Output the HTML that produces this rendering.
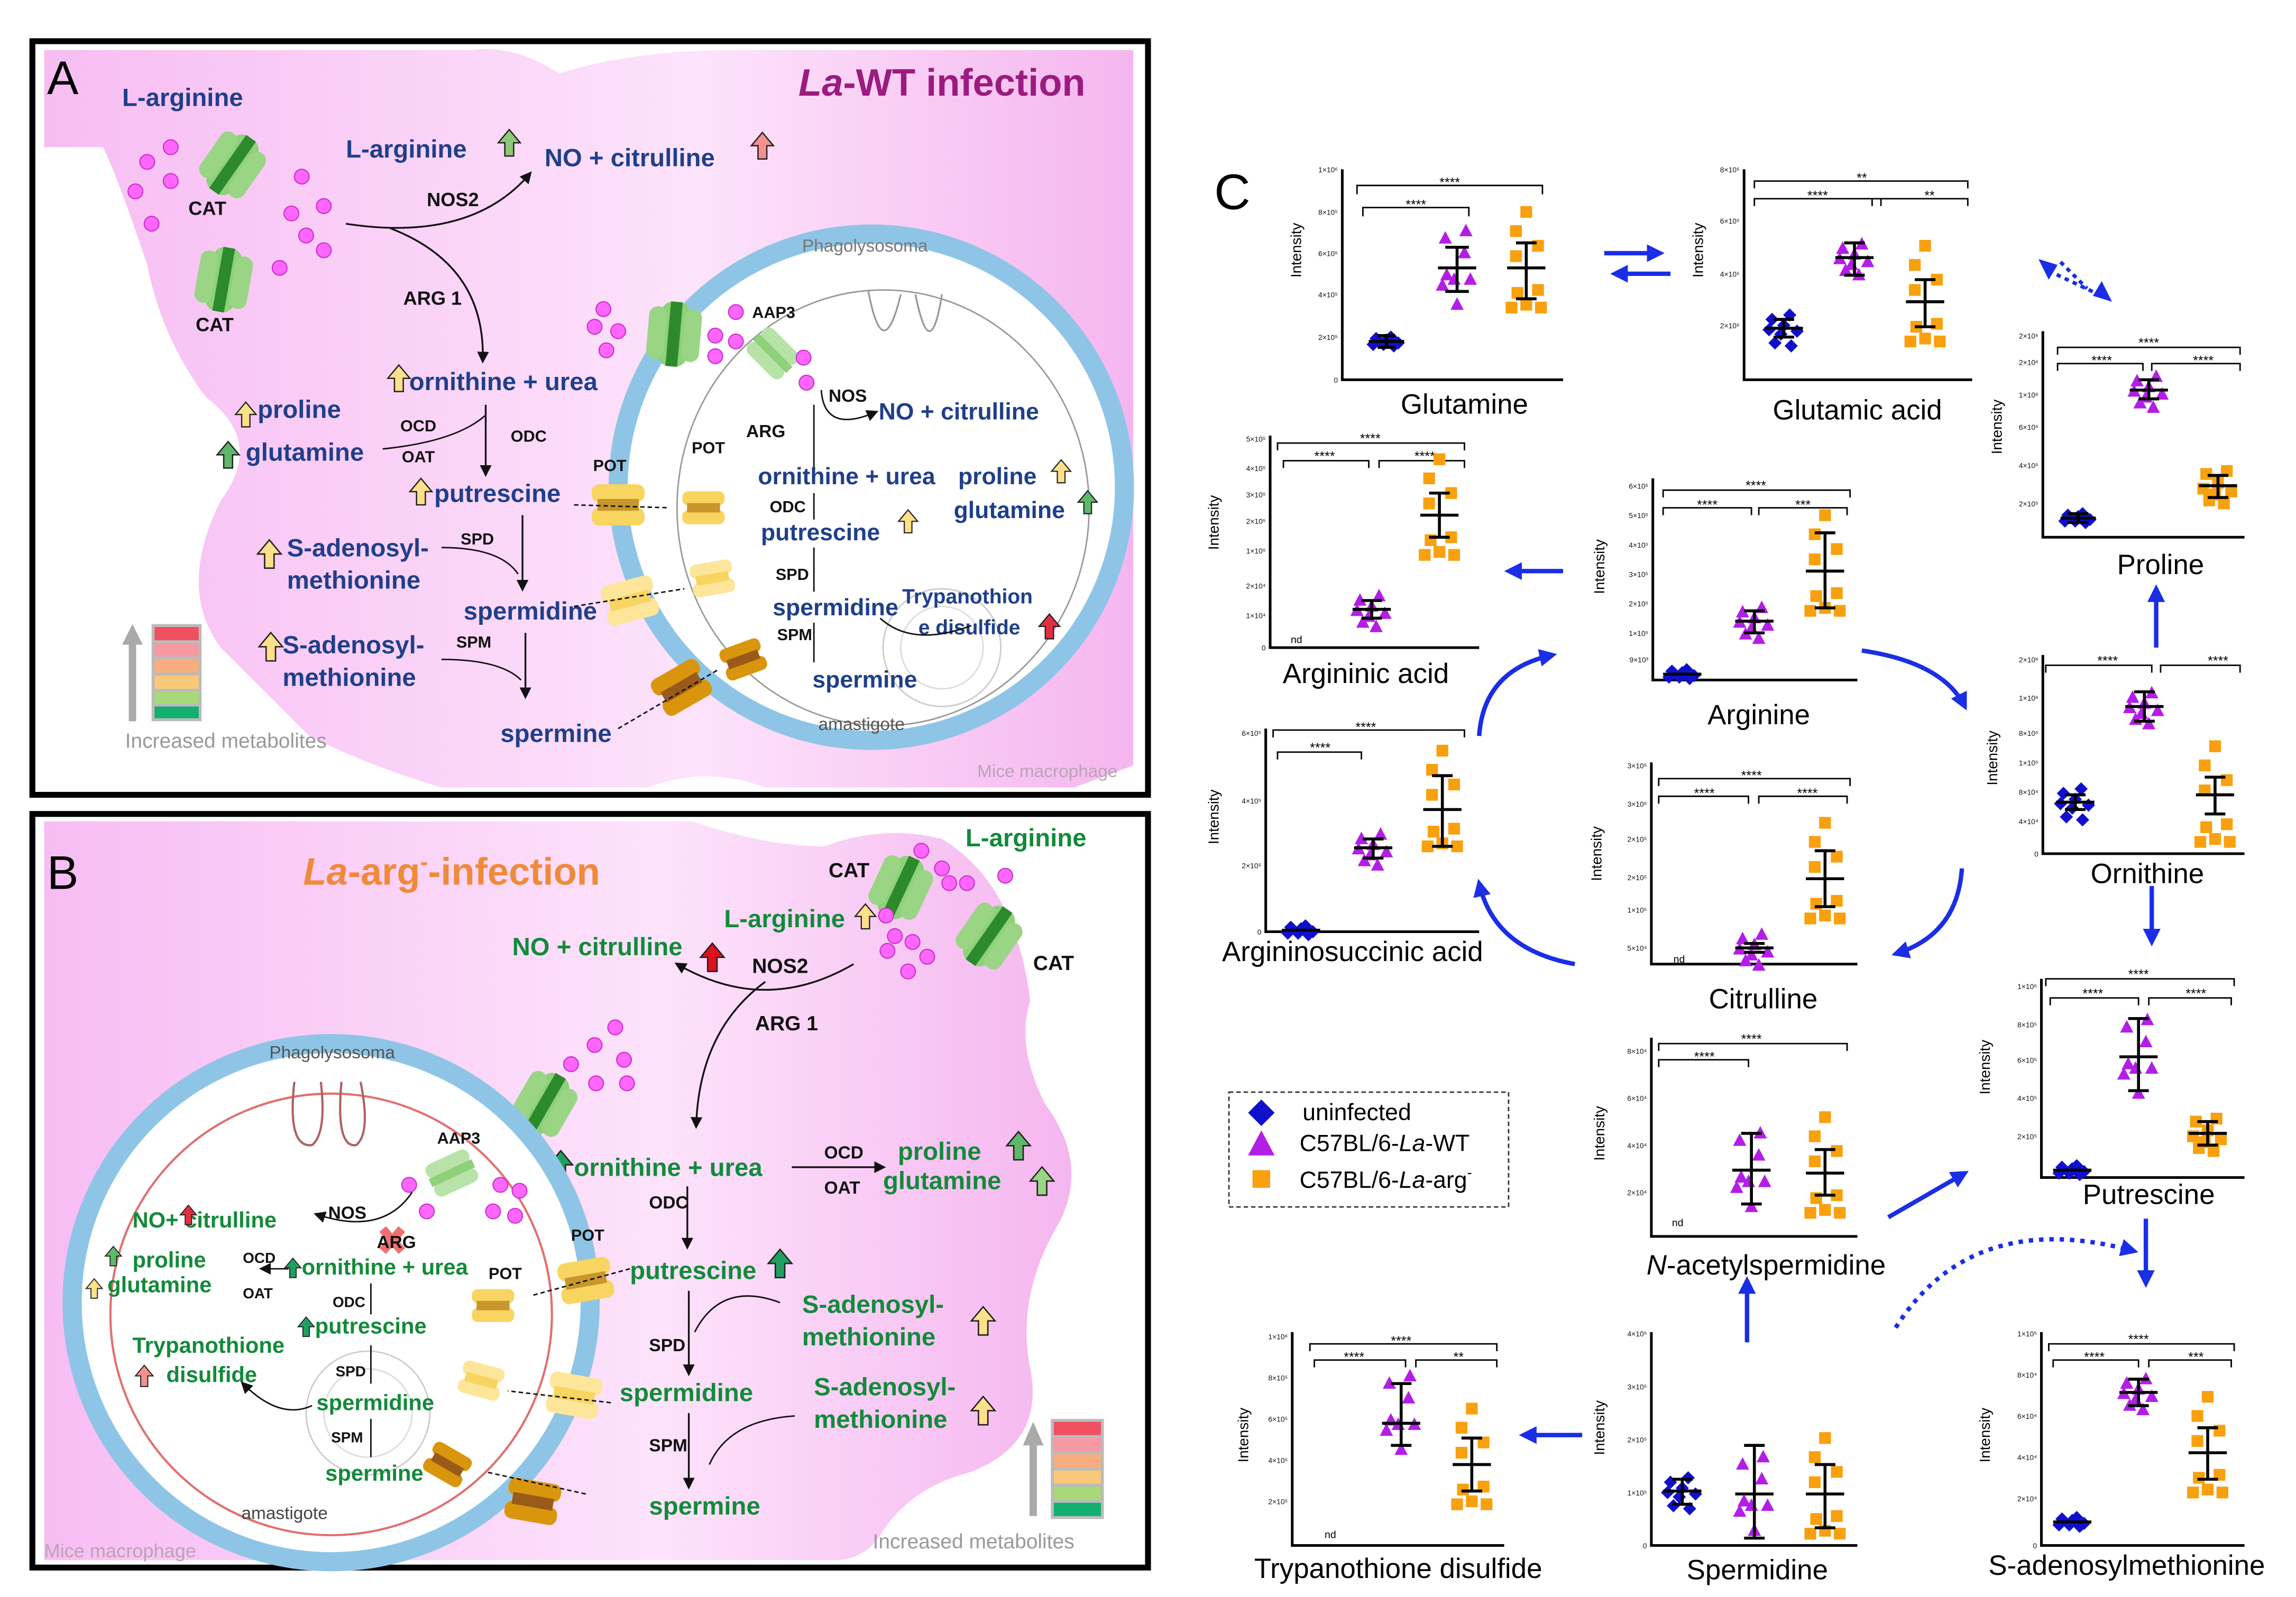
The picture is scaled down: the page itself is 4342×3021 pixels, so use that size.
<!DOCTYPE html>
<html><head><meta charset="utf-8">
<style>
html,body{margin:0;padding:0;background:#fff}
svg{display:block}
text{font-family:"Liberation Sans",sans-serif}
.b{font-weight:bold}
.A{fill:#1f3f8a;font-weight:bold}
.G{fill:#138a3a;font-weight:bold}
.k{fill:#111;font-weight:bold}
.t{font-size:5px;fill:#111}
</style></head><body>
<svg width="4342" height="3021" viewBox="0 0 1560 1085" preserveAspectRatio="none" xmlns="http://www.w3.org/2000/svg">
<defs>
<linearGradient id="pk" x1="0" y1="0" x2="1" y2="0">
<stop offset="0" stop-color="#f7bdf3"/><stop offset="0.6" stop-color="#fde3fb"/><stop offset="1" stop-color="#f5b6ef"/></linearGradient>
<marker id="ar" markerWidth="8" markerHeight="8" refX="6" refY="4" orient="auto" markerUnits="userSpaceOnUse"><path d="M0,0 L8,4 L0,8 z" fill="#111"/></marker>
<marker id="ab" markerWidth="12" markerHeight="12" refX="9" refY="6" orient="auto" markerUnits="userSpaceOnUse"><path d="M0,0 L12,6 L0,12 z" fill="#1a2ee6"/></marker>
<g id="cat"><rect x="-22" y="-10" width="44" height="20" rx="8" fill="#8fd07a"/><rect x="-18" y="-18" width="36" height="12" rx="6" fill="#9ad585"/><rect x="-18" y="6" width="36" height="12" rx="6" fill="#9ad585"/><rect x="-22" y="-4" width="44" height="8" fill="#2c8a2c"/></g>
<g id="aap"><rect x="-16" y="-12" width="32" height="10" rx="5" fill="#b8e3a8"/><rect x="-16" y="2" width="32" height="10" rx="5" fill="#b8e3a8"/><rect x="-16" y="-3" width="32" height="6" fill="#8fd07a"/></g>
<g id="pot"><rect x="-18" y="-14" width="36" height="12" rx="5" fill="#f7d560"/><rect x="-18" y="2" width="36" height="12" rx="5" fill="#f7d560"/><rect x="-14" y="-4" width="28" height="8" fill="#c8962a"/></g>
<g id="pot2"><rect x="-18" y="-14" width="36" height="12" rx="5" fill="#fde59a"/><rect x="-18" y="2" width="36" height="12" rx="5" fill="#fde59a"/><rect x="-14" y="-4" width="28" height="8" fill="#f7d560"/></g>
<g id="pot3"><rect x="-18" y="-14" width="36" height="12" rx="5" fill="#d9960c"/><rect x="-18" y="2" width="36" height="12" rx="5" fill="#d9960c"/><rect x="-14" y="-4" width="28" height="8" fill="#9a5a1a"/></g>
<circle id="dot" r="5" fill="#ff66ff" stroke="#cc33cc" stroke-width="0.8"/>
<path id="dm" d="M0,-4.5 L4.5,0 L0,4.5 L-4.5,0z" fill="#1010cc"/>
<path id="tr" d="M0,-5 L4.5,3.5 L-4.5,3.5z" fill="#b31ee6"/>
<rect id="sq" x="-4" y="-4" width="8" height="8" fill="#f9a00e"/>
<g id="dT"><use href="#dm" x="-7" y="-2"/><use href="#dm" x="-2" y="2"/><use href="#dm" x="3" y="-3"/><use href="#dm" x="8" y="1"/><use href="#dm" x="-9" y="2"/><use href="#dm" x="5" y="3"/><use href="#dm" x="0" y="-1"/></g>
<g id="dW"><use href="#dm" x="-8" y="-6"/><use href="#dm" x="-2" y="4"/><use href="#dm" x="4" y="-9"/><use href="#dm" x="9" y="2"/><use href="#dm" x="-6" y="10"/><use href="#dm" x="5" y="12"/><use href="#dm" x="0" y="-2"/><use href="#dm" x="-10" y="1"/></g>
<g id="tT"><use href="#tr" x="-8" y="-6"/><use href="#tr" x="-2" y="5"/><use href="#tr" x="5" y="-9"/><use href="#tr" x="9" y="3"/><use href="#tr" x="-6" y="9"/><use href="#tr" x="3" y="12"/><use href="#tr" x="0" y="-2"/><use href="#tr" x="-10" y="1"/></g>
<g id="tW"><use href="#tr" x="-8" y="-20"/><use href="#tr" x="-2" y="8"/><use href="#tr" x="6" y="-25"/><use href="#tr" x="9" y="8"/><use href="#tr" x="-7" y="5"/><use href="#tr" x="0" y="25"/><use href="#tr" x="5" y="-10"/><use href="#tr" x="-10" y="12"/></g>
<g id="sT"><use href="#sq" x="-8" y="-8"/><use href="#sq" x="-2" y="6"/><use href="#sq" x="6" y="-10"/><use href="#sq" x="9" y="4"/><use href="#sq" x="-6" y="10"/><use href="#sq" x="4" y="12"/><use href="#sq" x="0" y="-2"/><use href="#sq" x="-10" y="2"/></g>
<g id="sW"><use href="#sq" x="-7" y="-25"/><use href="#sq" x="0" y="-38"/><use href="#sq" x="8" y="-15"/><use href="#sq" x="-7" y="-8"/><use href="#sq" x="8" y="15"/><use href="#sq" x="-10" y="27"/><use href="#sq" x="0" y="25"/><use href="#sq" x="10" y="27"/><use href="#sq" x="-6" y="17"/></g>
<path id="uA" d="M-2,0 L-2,-6 L-5,-6 L0,-12 L5,-6 L2,-6 L2,0 Z" />
</defs>

<!-- ============ PANEL A ============ -->
<rect x="22" y="28" width="758" height="512" fill="#fff" stroke="#000" stroke-width="4"/>
<path d="M30,34 L320,34 Q350,30 380,50 Q430,34 500,34 L770,34 L770,520 L730,535 L520,535 Q480,520 440,535 L300,535 Q250,520 210,500 Q180,470 150,440 Q120,400 150,340 Q180,300 140,270 Q110,230 100,180 Q80,120 70,100 L30,100 Z" fill="url(#pk)"/>
<text x="32" y="64" font-size="32" fill="#000">A</text>
<text x="640" y="65" font-size="26" class="b" fill="#9b1b7e" text-anchor="middle"><tspan font-style="italic">La</tspan>-WT infection</text>
<text x="83" y="72" font-size="17" class="A">L-arginine</text>
<use href="#cat" transform="translate(158,112) rotate(-55)"/>
<use href="#cat" transform="translate(152,190) rotate(-80)"/>
<text x="128" y="146" font-size="13" class="k">CAT</text>
<text x="133" y="225" font-size="13" class="k">CAT</text>
<use href="#dot" x="100" y="110"/><use href="#dot" x="116" y="100"/><use href="#dot" x="92" y="130"/><use href="#dot" x="116" y="123"/><use href="#dot" x="103" y="152"/><use href="#dot" x="205" y="120"/><use href="#dot" x="220" y="140"/><use href="#dot" x="198" y="145"/><use href="#dot" x="208" y="160"/><use href="#dot" x="190" y="182"/><use href="#dot" x="220" y="170"/>
<text x="235" y="107" font-size="17" class="A">L-arginine</text>
<use href="#uA" transform="translate(346,106) scale(1.5)" fill="#8cc878" stroke="#222" stroke-width="0.6"/>
<text x="370" y="113" font-size="17" class="A">NO + citrulline</text>
<use href="#uA" transform="translate(518,108) scale(1.5)" fill="#f59090" stroke="#222" stroke-width="0.6"/>
<text x="290" y="140" font-size="13" class="k">NOS2</text>
<path d="M235,152 Q320,165 360,118" fill="none" stroke="#111" stroke-width="1.2" marker-end="url(#ar)"/>
<text x="274" y="207" font-size="13" class="k">ARG 1</text>
<path d="M265,155 Q330,180 328,245" fill="none" stroke="#111" stroke-width="1.2" marker-end="url(#ar)"/>
<use href="#uA" transform="translate(271,266) scale(1.5)" fill="#fde08a" stroke="#222" stroke-width="0.6"/>
<text x="278" y="265" font-size="17" class="A">ornithine + urea</text>
<use href="#uA" transform="translate(167,290) scale(1.4)" fill="#fde08a" stroke="#222" stroke-width="0.6"/>
<text x="175" y="284" font-size="17" class="A">proline</text>
<use href="#uA" transform="translate(155,318) scale(1.5)" fill="#5fb86a" stroke="#222" stroke-width="0.6"/>
<text x="167" y="313" font-size="17" class="A">glutamine</text>
<text x="272" y="293" font-size="11" class="k">OCD</text>
<text x="273" y="314" font-size="11" class="k">OAT</text>
<path d="M330,282 Q310,300 260,305" fill="none" stroke="#111" stroke-width="1"/>
<path d="M330,275 L330,322" stroke="#111" stroke-width="1.2" marker-end="url(#ar)"/>
<text x="347" y="300" font-size="11" class="k">ODC</text>
<use href="#uA" transform="translate(286,343) scale(1.5)" fill="#fde08a" stroke="#222" stroke-width="0.6"/>
<text x="295" y="341" font-size="17" class="A">putrescine</text>
<use href="#uA" transform="translate(183,386) scale(1.6)" fill="#fde08a" stroke="#222" stroke-width="0.6"/>
<text x="195" y="378" font-size="17" class="A">S-adenosyl-</text>
<text x="195" y="400" font-size="17" class="A">methionine</text>
<text x="313" y="370" font-size="11" class="k">SPD</text>
<path d="M355,350 L355,400" stroke="#111" stroke-width="1.2" marker-end="url(#ar)"/>
<path d="M300,372 Q340,372 352,390" fill="none" stroke="#111" stroke-width="1"/>
<text x="315" y="421" font-size="17" class="A">spermidine</text>
<use href="#uA" transform="translate(184,449) scale(1.6)" fill="#fde08a" stroke="#222" stroke-width="0.6"/>
<text x="192" y="444" font-size="17" class="A">S-adenosyl-</text>
<text x="192" y="466" font-size="17" class="A">methionine</text>
<text x="310" y="440" font-size="11" class="k">SPM</text>
<path d="M357,430 L357,473" stroke="#111" stroke-width="1.2" marker-end="url(#ar)"/>
<path d="M300,448 Q340,448 354,462" fill="none" stroke="#111" stroke-width="1"/>
<text x="340" y="504" font-size="17" class="A">spermine</text>
<path d="M90,490 L90,435" stroke="#aaa" stroke-width="5"/><path d="M83,438 L90,424 L97,438z" fill="#aaa"/>
<rect x="103" y="424" width="34" height="66" fill="#bbb"/>
<rect x="105" y="426" width="30" height="9" fill="#f05060"/><rect x="105" y="437" width="30" height="9" fill="#f59aa2"/><rect x="105" y="448" width="30" height="9" fill="#f8ad80"/><rect x="105" y="459" width="30" height="9" fill="#f9c878"/><rect x="105" y="470" width="30" height="8" fill="#a8d878"/><rect x="105" y="480" width="30" height="8" fill="#10b070"/>
<text x="85" y="508" font-size="14" fill="#999">Increased metabolites</text>
<text x="664" y="528" font-size="12" fill="#b9a5b5">Mice macrophage</text>
<circle cx="592" cy="331" r="172" fill="#fff" stroke="#8ec5e6" stroke-width="13"/>
<text x="545" y="171" font-size="12" fill="#777">Phagolysosoma</text>
<ellipse cx="600" cy="345" rx="140" ry="148" fill="none" stroke="#999" stroke-width="1"/>
<path d="M590,198 Q600,250 612,200 M622,200 Q632,250 640,200" fill="none" stroke="#999" stroke-width="1.2"/>
<circle cx="640" cy="440" r="40" fill="none" stroke="#ccc"/><circle cx="640" cy="440" r="28" fill="none" stroke="#ddd"/>
<text x="556" y="496" font-size="12" fill="#555">amastigote</text>
<use href="#cat" transform="translate(458,227) rotate(-85)"/>
<use href="#aap" transform="translate(525,240) rotate(45)"/>
<text x="511" y="216" font-size="11" class="k">AAP3</text>
<use href="#dot" x="410" y="210"/><use href="#dot" x="404" y="222"/><use href="#dot" x="420" y="225"/><use href="#dot" x="412" y="238"/><use href="#dot" x="500" y="212"/><use href="#dot" x="486" y="228"/><use href="#dot" x="500" y="232"/><use href="#dot" x="486" y="242"/><use href="#dot" x="546" y="243"/><use href="#dot" x="548" y="260"/>
<text x="563" y="273" font-size="12" class="k">NOS</text>
<path d="M558,265 Q560,295 595,280" fill="none" stroke="#111" stroke-width="1" marker-end="url(#ar)"/>
<text x="597" y="285" font-size="16" class="A">NO + citrulline</text>
<text x="507" y="297" font-size="12" class="k">ARG</text>
<text x="470" y="308" font-size="11" class="k">POT</text>
<text x="403" y="320" font-size="11" class="k">POT</text>
<path d="M553,275 L553,318" stroke="#111" stroke-width="1"/>
<text x="515" y="329" font-size="16" class="A">ornithine + urea</text>
<text x="651" y="329" font-size="16" class="A">proline</text>
<text x="648" y="352" font-size="16" class="A">glutamine</text>
<use href="#uA" transform="translate(721,328) scale(1.3)" fill="#fde08a" stroke="#222" stroke-width="0.6"/>
<use href="#uA" transform="translate(739,349) scale(1.3)" fill="#5fb86a" stroke="#222" stroke-width="0.6"/>
<use href="#uA" transform="translate(617,362) scale(1.3)" fill="#fde08a" stroke="#222" stroke-width="0.6"/>
<text x="523" y="348" font-size="11" class="k">ODC</text>
<path d="M553,335 L553,353" stroke="#111" stroke-width="1"/>
<text x="517" y="367" font-size="16" class="A">putrescine</text>
<text x="527" y="394" font-size="11" class="k">SPD</text>
<path d="M553,372 L553,402" stroke="#111" stroke-width="1"/>
<text x="525" y="418" font-size="16" class="A">spermidine</text>
<text x="613" y="410" font-size="14" class="A">Trypanothion</text>
<text x="624" y="431" font-size="14" class="A">e disulfide</text>
<use href="#uA" transform="translate(713,434) scale(1.4)" fill="#e03040" stroke="#222" stroke-width="0.6"/>
<text x="528" y="435" font-size="11" class="k">SPM</text>
<path d="M553,423 L553,450" stroke="#111" stroke-width="1"/>
<path d="M598,420 Q620,440 660,425" fill="none" stroke="#111" stroke-width="1"/>
<text x="552" y="467" font-size="16" class="A">spermine</text>
<use href="#pot" transform="translate(420,343)"/>
<use href="#pot" transform="translate(478,345) scale(0.8)"/>
<use href="#pot2" transform="translate(428,408) rotate(-15)"/>
<use href="#pot2" transform="translate(484,393) rotate(-10) scale(0.8)"/>
<use href="#pot3" transform="translate(463,467) rotate(-30)"/>
<use href="#pot3" transform="translate(505,448) rotate(-20) scale(0.8)"/>
<path d="M390,343 L455,345 M390,412 L465,400 M420,495 L488,455" stroke="#111" stroke-width="1" stroke-dasharray="3,2"/>

<!-- ============ PANEL B ============ -->
<rect x="22" y="553" width="758" height="512" fill="#fff" stroke="#000" stroke-width="4"/>
<path d="M30,558 L470,558 Q520,575 560,575 Q600,560 640,570 Q690,600 700,680 Q690,710 710,750 Q740,790 720,830 Q690,880 700,930 Q710,980 660,1000 Q620,1010 600,1040 Q590,1058 570,1060 L30,1060 Z" fill="url(#pk)"/>
<text x="32" y="604" font-size="32" fill="#000">B</text>
<text x="206" y="601" font-size="26" class="b" fill="#f08a3a"><tspan font-style="italic">La</tspan>-arg<tspan font-size="16" dy="-10">-</tspan><tspan dy="10">-infection</tspan></text>
<text x="656" y="575" font-size="17" class="G">L-arginine</text>
<text x="563" y="596" font-size="14" class="k">CAT</text>
<text x="702" y="659" font-size="14" class="k">CAT</text>
<use href="#cat" transform="translate(612,603) rotate(-65)"/>
<use href="#cat" transform="translate(672,636) rotate(-55)"/>
<use href="#dot" x="626" y="578"/><use href="#dot" x="640" y="590"/><use href="#dot" x="645" y="600"/><use href="#dot" x="657" y="600"/><use href="#dot" x="683" y="595"/><use href="#dot" x="602" y="622"/><use href="#dot" x="608" y="636"/><use href="#dot" x="620" y="640"/><use href="#dot" x="630" y="650"/><use href="#dot" x="617" y="660"/><use href="#dot" x="603" y="646"/>
<text x="492" y="630" font-size="17" class="G">L-arginine</text>
<use href="#uA" transform="translate(588,631) scale(1.4)" fill="#fde08a" stroke="#222" stroke-width="0.6"/>
<text x="348" y="649" font-size="17" class="G">NO + citrulline</text>
<use href="#uA" transform="translate(484,660) scale(1.6)" fill="#e01020" stroke="#222" stroke-width="0.6"/>
<text x="511" y="661" font-size="14" class="k">NOS2</text>
<path d="M580,655 Q520,690 460,655" fill="none" stroke="#111" stroke-width="1.2" marker-end="url(#ar)"/>
<text x="513" y="700" font-size="14" class="k">ARG 1</text>
<path d="M520,667 Q475,700 473,765" fill="none" stroke="#111" stroke-width="1.2" marker-end="url(#ar)"/>
<use href="#dot" x="418" y="698"/><use href="#dot" x="404" y="710"/><use href="#dot" x="388" y="723"/><use href="#dot" x="424" y="720"/><use href="#dot" x="426" y="736"/><use href="#dot" x="405" y="736"/>
<use href="#cat" transform="translate(370,750) rotate(-60)"/>
<use href="#uA" transform="translate(381,801) scale(1.6)" fill="#20a060" stroke="#222" stroke-width="0.6"/>
<text x="390" y="799" font-size="17" class="G">ornithine + urea</text>
<path d="M538,793 L600,793" stroke="#111" stroke-width="1.2" marker-end="url(#ar)"/>
<text x="560" y="787" font-size="12" class="k">OCD</text>
<text x="560" y="811" font-size="12" class="k">OAT</text>
<text x="610" y="788" font-size="17" class="G">proline</text>
<text x="600" y="808" font-size="17" class="G">glutamine</text>
<use href="#uA" transform="translate(692,788) scale(1.6)" fill="#5fb86a" stroke="#222" stroke-width="0.6"/>
<use href="#uA" transform="translate(708,812) scale(1.6)" fill="#9ad585" stroke="#222" stroke-width="0.6"/>
<text x="441" y="821" font-size="12" class="k">ODC</text>
<path d="M467,806 L467,847" stroke="#111" stroke-width="1.2" marker-end="url(#ar)"/>
<text x="428" y="869" font-size="17" class="G">putrescine</text>
<use href="#uA" transform="translate(530,868) scale(1.6)" fill="#20a060" stroke="#222" stroke-width="0.6"/>
<text x="545" y="892" font-size="17" class="G">S-adenosyl-</text>
<text x="545" y="914" font-size="17" class="G">methionine</text>
<use href="#uA" transform="translate(668,907) scale(1.6)" fill="#fde08a" stroke="#222" stroke-width="0.6"/>
<text x="441" y="918" font-size="12" class="k">SPD</text>
<path d="M468,877 L468,933" stroke="#111" stroke-width="1.2" marker-end="url(#ar)"/>
<path d="M530,885 Q490,870 472,905" fill="none" stroke="#111" stroke-width="1"/>
<text x="421" y="952" font-size="17" class="G">spermidine</text>
<text x="553" y="948" font-size="17" class="G">S-adenosyl-</text>
<text x="553" y="970" font-size="17" class="G">methionine</text>
<use href="#uA" transform="translate(668,968) scale(1.6)" fill="#fde08a" stroke="#222" stroke-width="0.6"/>
<text x="441" y="986" font-size="12" class="k">SPM</text>
<path d="M468,960 L468,1010" stroke="#111" stroke-width="1.2" marker-end="url(#ar)"/>
<path d="M540,962 Q495,965 482,995" fill="none" stroke="#111" stroke-width="1"/>
<text x="441" y="1029" font-size="17" class="G">spermine</text>
<path d="M702,1030 L702,978" stroke="#aaa" stroke-width="5"/><path d="M695,982 L702,966 L709,982z" fill="#aaa"/>
<rect x="714" y="964" width="36" height="68" fill="#bbb"/>
<rect x="716" y="966" width="32" height="9" fill="#f05060"/><rect x="716" y="977" width="32" height="9" fill="#f59aa2"/><rect x="716" y="988" width="32" height="9" fill="#f8ad80"/><rect x="716" y="999" width="32" height="9" fill="#f9c878"/><rect x="716" y="1010" width="32" height="9" fill="#a8d878"/><rect x="716" y="1021" width="32" height="9" fill="#10b070"/>
<text x="593" y="1052" font-size="14" fill="#999">Increased metabolites</text>
<circle cx="225" cy="885" r="176" fill="#fff" stroke="#8ec5e6" stroke-width="13"/>
<text x="183" y="719" font-size="12" fill="#555">Phagolysosoma</text>
<ellipse cx="225" cy="893" rx="150" ry="150" fill="none" stroke="#e07070" stroke-width="1.5"/>
<path d="M200,735 Q195,780 212,778 Q222,770 218,735 M232,735 Q228,780 242,778 Q252,770 245,735" fill="none" stroke="#b06060" stroke-width="1.5"/>
<circle cx="250" cy="960" r="42" fill="none" stroke="#ccc"/><circle cx="250" cy="960" r="30" fill="none" stroke="#ddd"/>
<text x="164" y="1032" font-size="12" fill="#444">amastigote</text>
<text x="30" y="1058" font-size="13" fill="#b9a5b5">Mice macrophage</text>
<use href="#aap" transform="translate(307,797) rotate(-25)"/>
<text x="297" y="777" font-size="11" class="k">AAP3</text>
<use href="#dot" x="278" y="805"/><use href="#dot" x="290" y="823"/><use href="#dot" x="340" y="805"/><use href="#dot" x="353" y="809"/><use href="#dot" x="335" y="823"/><use href="#dot" x="350" y="826"/>
<text x="90" y="834" font-size="15" class="G">NO+  citrulline</text>
<use href="#uA" transform="translate(128,832) scale(1.1)" fill="#e03040" stroke="#222" stroke-width="0.6"/>
<text x="223" y="828" font-size="12" class="k">NOS</text>
<path d="M280,810 Q260,840 215,825" fill="none" stroke="#111" stroke-width="1" marker-end="url(#ar)"/>
<path d="M260,835 L273,850 M273,835 L260,850" stroke="#f07070" stroke-width="6"/>
<text x="256" y="848" font-size="12" class="k">ARG</text>
<use href="#uA" transform="translate(77,860) scale(1.1)" fill="#5fb86a" stroke="#222" stroke-width="0.6"/>
<text x="90" y="861" font-size="15" class="G">proline</text>
<use href="#uA" transform="translate(64,882) scale(1.1)" fill="#fde08a" stroke="#222" stroke-width="0.6"/>
<text x="73" y="878" font-size="15" class="G">glutamine</text>
<text x="165" y="858" font-size="10" class="k">OCD</text>
<text x="165" y="882" font-size="10" class="k">OAT</text>
<path d="M196,862 L178,862" stroke="#111" stroke-width="1" marker-end="url(#ar)"/>
<use href="#uA" transform="translate(199,868) scale(1.1)" fill="#20a060" stroke="#222" stroke-width="0.6"/>
<text x="205" y="866" font-size="15" class="G">ornithine + urea</text>
<text x="332" y="869" font-size="11" class="k">POT</text>
<text x="388" y="843" font-size="11" class="k">POT</text>
<text x="226" y="888" font-size="10" class="k">ODC</text>
<path d="M252,872 L252,893" stroke="#111" stroke-width="1"/>
<use href="#uA" transform="translate(208,908) scale(1.1)" fill="#20a060" stroke="#222" stroke-width="0.6"/>
<text x="214" y="906" font-size="15" class="G">putrescine</text>
<text x="90" y="919" font-size="15" class="G">Trypanothione</text>
<use href="#uA" transform="translate(98,942) scale(1.2)" fill="#f59090" stroke="#222" stroke-width="0.6"/>
<text x="113" y="939" font-size="15" class="G">disulfide</text>
<text x="228" y="935" font-size="10" class="k">SPD</text>
<path d="M252,914 L252,940" stroke="#111" stroke-width="1"/>
<path d="M212,955 Q190,965 165,940" fill="none" stroke="#111" stroke-width="1" marker-end="url(#ar)"/>
<text x="215" y="958" font-size="15" class="G">spermidine</text>
<text x="225" y="980" font-size="10" class="k">SPM</text>
<path d="M252,964 L252,990" stroke="#111" stroke-width="1"/>
<text x="221" y="1006" font-size="15" class="G">spermine</text>
<use href="#pot" transform="translate(398,870) rotate(-10)"/>
<use href="#pot" transform="translate(335,887) scale(0.8)"/>
<use href="#pot2" transform="translate(390,948) rotate(10)"/>
<use href="#pot2" transform="translate(327,938) rotate(15) scale(0.8)"/>
<use href="#pot3" transform="translate(362,1020) rotate(10)"/>
<use href="#pot3" transform="translate(304,995) rotate(30) scale(0.8)"/>
<path d="M428,862 L362,880 M415,953 L345,945 M398,1015 L330,1000" stroke="#111" stroke-width="1" stroke-dasharray="3,2"/>

<!-- ============ PANEL C ============ -->
<text x="825" y="142" font-size="34" fill="#000">C</text>

<g stroke="#000" stroke-width="1.8" fill="none">
<path d="M912,115 L912,258 L1062,258"/>
<path d="M1185,115 L1185,258 L1340,258"/>
<path d="M1388,225 L1388,365 L1525,365"/>
<path d="M863,296 L863,440 L1005,440"/>
<path d="M1123,325 L1123,462 L1262,462"/>
<path d="M1388,445 L1388,580 L1525,580"/>
<path d="M860,495 L860,633 L1005,633"/>
<path d="M1122,518 L1122,655 L1262,655"/>
<path d="M1387,665 L1387,800 L1525,800"/>
<path d="M1122,705 L1122,840 L1262,840"/>
<path d="M878,905 L878,1050 L1022,1050"/>
<path d="M1122,905 L1122,1050 L1262,1050"/>
<path d="M1387,905 L1387,1050 L1525,1050"/>
</g>
<g stroke="#000" stroke-width="1" fill="none">
<path d="M922,132 V126 H1048 V132 M926,147 V141 H998 V147"/>
<path d="M1192,128 V123 H1337 V128 M1192,140 V135 H1278 V140 M1272,140 V135 H1337 V140"/>
<path d="M1398,241 V236 H1522 V241 M1398,252 V247 H1456 V252 M1462,252 V247 H1522 V252"/>
<path d="M868,306 V301 H995 V306 M872,318 V313 H930 V318 M937,318 V313 H995 V318"/>
<path d="M1130,338 V333 H1257 V338 M1130,350 V345 H1190 V350 M1195,350 V345 H1255 V350"/>
<path d="M1390,457 V452 H1462 V457 M1468,457 V452 H1522 V457"/>
<path d="M865,501 V496 H995 V501 M868,516 V511 H925 V516"/>
<path d="M1127,534 V529 H1257 V534 M1127,546 V541 H1188 V546 M1195,546 V541 H1255 V546"/>
<path d="M1390,670 V665 H1518 V670 M1393,683 V678 H1453 V683 M1460,683 V678 H1516 V683"/>
<path d="M1127,714 V709 H1255 V714 M1127,725 V720 H1188 V725"/>
<path d="M890,918 V913 H1017 V918 M893,929 V924 H955 V929 M962,929 V924 H1017 V929"/>
<path d="M1392,918 V913 H1518 V918 M1395,929 V924 H1453 V929 M1460,929 V924 H1516 V929"/>
</g>
<g font-size="9" fill="#000" text-anchor="middle">
<text x="985" y="127">****</text><text x="962" y="142">****</text>
<text x="1265" y="124">**</text><text x="1235" y="136">****</text><text x="1311" y="136">**</text>
<text x="1460" y="236">****</text><text x="1428" y="248">****</text><text x="1497" y="248">****</text>
<text x="931" y="301">****</text><text x="900" y="313">****</text><text x="968" y="313">****</text>
<text x="1193" y="333">****</text><text x="1160" y="346">****</text><text x="1225" y="346">***</text>
<text x="1432" y="452">****</text><text x="1507" y="452">****</text>
<text x="928" y="497">****</text><text x="897" y="511">****</text>
<text x="1190" y="530">****</text><text x="1158" y="542">****</text><text x="1228" y="542">****</text>
<text x="1453" y="665">****</text><text x="1422" y="678">****</text><text x="1492" y="678">****</text>
<text x="1190" y="709">****</text><text x="1158" y="721">****</text>
<text x="952" y="914">****</text><text x="920" y="925">****</text><text x="991" y="925">**</text>
<text x="1453" y="913">****</text><text x="1423" y="925">****</text><text x="1492" y="925">***</text>
</g>
<g font-size="10" fill="#000" text-anchor="middle">
<text transform="translate(884,170) rotate(-90)">Intensity</text>
<text transform="translate(1157,170) rotate(-90)">Intensity</text>
<text transform="translate(1360,290) rotate(-90)">Intensity</text>
<text transform="translate(828,355) rotate(-90)">Intensity</text>
<text transform="translate(1090,385) rotate(-90)">Intensity</text>
<text transform="translate(1357,515) rotate(-90)">Intensity</text>
<text transform="translate(828,555) rotate(-90)">Intensity</text>
<text transform="translate(1088,580) rotate(-90)">Intensity</text>
<text transform="translate(1352,725) rotate(-90)">Intensity</text>
<text transform="translate(1090,770) rotate(-90)">Intensity</text>
<text transform="translate(848,975) rotate(-90)">Intensity</text>
<text transform="translate(1090,970) rotate(-90)">Intensity</text>
<text transform="translate(1352,975) rotate(-90)">Intensity</text>
</g>
<g class="t" font-size="5" text-anchor="end">
<text x="909" y="117">1×10⁶</text><text x="909" y="146">8×10⁵</text><text x="909" y="174">6×10⁵</text><text x="909" y="202">4×10⁵</text><text x="909" y="231">2×10⁵</text><text x="909" y="260">0</text>
<text x="1182" y="117">8×10⁵</text><text x="1182" y="152">6×10⁵</text><text x="1182" y="188">4×10⁵</text><text x="1182" y="223">2×10⁵</text>
<text x="1385" y="230">2×10⁶</text><text x="1385" y="248">2×10⁶</text><text x="1385" y="270">1×10⁶</text><text x="1385" y="292">6×10⁵</text><text x="1385" y="318">4×10⁵</text><text x="1385" y="344">2×10⁵</text>
<text x="860" y="300">5×10⁵</text><text x="860" y="320">4×10⁵</text><text x="860" y="338">3×10⁵</text><text x="860" y="356">2×10⁵</text><text x="860" y="376">1×10⁵</text><text x="860" y="400">2×10⁴</text><text x="860" y="420">1×10⁴</text><text x="860" y="442">0</text>
<text x="1120" y="332">6×10⁵</text><text x="1120" y="352">5×10⁵</text><text x="1120" y="372">4×10⁵</text><text x="1120" y="392">3×10⁵</text><text x="1120" y="412">2×10⁵</text><text x="1120" y="432">1×10⁵</text><text x="1120" y="450">9×10³</text>
<text x="1385" y="450">2×10⁶</text><text x="1385" y="476">1×10⁶</text><text x="1385" y="500">8×10⁵</text><text x="1385" y="520">1×10⁵</text><text x="1385" y="540">8×10⁴</text><text x="1385" y="560">4×10⁴</text><text x="1385" y="582">0</text>
<text x="857" y="500">6×10⁵</text><text x="857" y="546">4×10⁵</text><text x="857" y="590">2×10⁵</text><text x="857" y="635">0</text>
<text x="1119" y="522">3×10⁵</text><text x="1119" y="548">3×10⁵</text><text x="1119" y="572">2×10⁵</text><text x="1119" y="598">2×10⁵</text><text x="1119" y="620">1×10⁵</text><text x="1119" y="646">5×10⁴</text>
<text x="1384" y="672">1×10⁶</text><text x="1384" y="698">8×10⁵</text><text x="1384" y="722">6×10⁵</text><text x="1384" y="748">4×10⁵</text><text x="1384" y="774">2×10⁵</text>
<text x="1119" y="716">8×10⁴</text><text x="1119" y="748">6×10⁴</text><text x="1119" y="780">4×10⁴</text><text x="1119" y="812">2×10⁴</text>
<text x="875" y="910">1×10⁶</text><text x="875" y="938">8×10⁵</text><text x="875" y="966">6×10⁵</text><text x="875" y="994">4×10⁵</text><text x="875" y="1022">2×10⁵</text>
<text x="1119" y="908">4×10⁵</text><text x="1119" y="944">3×10⁵</text><text x="1119" y="980">2×10⁵</text><text x="1119" y="1016">1×10⁵</text><text x="1119" y="1052">0</text>
<text x="1384" y="908">1×10⁵</text><text x="1384" y="936">8×10⁴</text><text x="1384" y="964">6×10⁴</text><text x="1384" y="992">4×10⁴</text><text x="1384" y="1020">2×10⁴</text><text x="1384" y="1052">0</text>
</g>
<g font-size="7" fill="#000"><text x="877" y="437">nd</text><text x="1137" y="654">nd</text><text x="1136" y="833">nd</text><text x="900" y="1045">nd</text></g>

<use href="#dT" x="942" y="232"/><use href="#tW" x="990" y="182"/><use href="#sW" x="1037" y="182"/>
<use href="#dW" x="1212" y="223"/><use href="#tT" x="1260" y="175"/><use href="#sW" x="1308" y="205"/>
<use href="#dT" x="1412" y="352"/><use href="#tT" x="1460" y="265"/><use href="#sT" x="1507" y="330"/>
<use href="#tT" x="932" y="414"/><use href="#sW" x="978" y="350"/>
<use href="#dT" x="1143" y="458"/><use href="#tT" x="1192" y="422"/><use href="#sW" x="1240" y="388"/>
<use href="#dW" x="1410" y="545"/><use href="#tT" x="1457" y="480"/><use href="#sW" x="1505" y="545"/>
<use href="#dT" x="884" y="632"/><use href="#tT" x="933" y="576"/><use href="#sW" x="980" y="548"/>
<use href="#tT" x="1192" y="644"/><use href="#sW" x="1240" y="597"/>
<use href="#dT" x="1408" y="795"/><use href="#tW" x="1453" y="718"/><use href="#sT" x="1500" y="770"/>
<use href="#tW" x="1190" y="795"/><use href="#sW" x="1240" y="797"/>
<use href="#tW" x="952" y="960"/><use href="#sW" x="1000" y="995"/>
<use href="#dW" x="1143" y="1013"/><use href="#tW" x="1192" y="1015"/><use href="#sW" x="1240" y="1015"/>
<use href="#dT" x="1408" y="1034"/><use href="#tT" x="1453" y="946"/><use href="#sW" x="1500" y="987"/>
<g stroke="#000" stroke-width="2" fill="none">
<path d="M930,232 H954 M936,228 H948 M936,236 H948 M942,228 V236"/>
<path d="M977,182 H1003 M982,168 H998 M982,198 H998 M990,168 V198"/>
<path d="M1024,182 H1050 M1030,165 H1044 M1030,203 H1044 M1037,165 V203"/>
<path d="M1199,223 H1225 M1205,217 H1219 M1205,229 H1219 M1212,217 V229"/>
<path d="M1247,175 H1273 M1253,165 H1267 M1253,187 H1267 M1260,165 V187"/>
<path d="M1295,205 H1321 M1301,190 H1315 M1301,222 H1315 M1308,190 V222"/>
<path d="M1400,352 H1424 M1405,349 H1419 M1405,355 H1419 M1412,349 V355"/>
<path d="M1447,265 H1473 M1453,258 H1467 M1453,271 H1467 M1460,258 V271"/>
<path d="M1494,330 H1520 M1500,323 H1514 M1500,338 H1514 M1507,323 V338"/>
<path d="M919,414 H945 M925,408 H939 M925,420 H939 M932,408 V420"/>
<path d="M965,350 H991 M971,335 H985 M971,365 H985 M978,335 V365"/>
<path d="M1130,458 H1156"/>
<path d="M1179,422 H1205 M1185,415 H1199 M1185,430 H1199 M1192,415 V430"/>
<path d="M1227,388 H1253 M1233,362 H1247 M1233,413 H1247 M1240,362 V413"/>
<path d="M1397,545 H1423 M1403,540 H1417 M1403,550 H1417 M1410,540 V550"/>
<path d="M1444,480 H1470 M1450,470 H1464 M1450,490 H1464 M1457,470 V490"/>
<path d="M1492,540 H1518 M1498,528 H1512 M1498,553 H1512 M1505,528 V553"/>
<path d="M871,632 H897"/>
<path d="M920,576 H946 M926,570 H940 M926,583 H940 M933,570 V583"/>
<path d="M967,550 H993 M973,527 H987 M973,575 H987 M980,527 V575"/>
<path d="M1179,644 H1205 M1185,641 H1199 M1185,647 H1199"/>
<path d="M1227,597 H1253 M1233,578 H1247 M1233,616 H1247 M1240,578 V616"/>
<path d="M1395,795 H1421"/>
<path d="M1440,718 H1466 M1446,692 H1460 M1446,741 H1460 M1453,692 V741"/>
<path d="M1487,770 H1513 M1493,762 H1507 M1493,778 H1507 M1500,762 V778"/>
<path d="M1177,795 H1203 M1183,770 H1197 M1183,818 H1197 M1190,770 V818"/>
<path d="M1227,797 H1253 M1233,781 H1247 M1233,812 H1247 M1240,781 V812"/>
<path d="M939,967 H965 M945,940 H959 M945,982 H959 M952,940 V982"/>
<path d="M987,995 H1013 M993,977 H1007 M993,1013 H1007 M1000,977 V1013"/>
<path d="M1130,1013 H1156 M1136,1005 H1150 M1136,1022 H1150 M1143,1005 V1022"/>
<path d="M1179,1015 H1205 M1185,982 H1199 M1185,1045 H1199 M1192,982 V1045"/>
<path d="M1227,1015 H1253 M1233,995 H1247 M1233,1038 H1247 M1240,995 V1038"/>
<path d="M1395,1034 H1421"/>
<path d="M1440,946 H1466 M1446,937 H1460 M1446,955 H1460 M1453,937 V955"/>
<path d="M1487,987 H1513 M1493,970 H1507 M1493,1005 H1507 M1500,970 V1005"/>
</g>
<g font-size="19" fill="#000" text-anchor="middle">
<text x="995" y="281">Glutamine</text>
<text x="1262" y="285">Glutamic acid</text>
<text x="1468" y="390">Proline</text>
<text x="928" y="464">Argininic acid</text>
<text x="1195" y="492">Arginine</text>
<text x="1459" y="600">Ornithine</text>
<text x="919" y="653">Argininosuccinic  acid</text>
<text x="1198" y="685">Citrulline</text>
<text x="1460" y="818">Putrescine</text>
<text x="1200" y="866"><tspan font-style="italic">N</tspan>-acetylspermidine</text>
<text x="950" y="1072">Trypanothione disulfide</text>
<text x="1194" y="1073">Spermidine</text>
<text x="1445" y="1070">S-adenosylmethionine</text>
</g>
<rect x="835" y="742" width="190" height="78" fill="none" stroke="#333" stroke-width="1" stroke-dasharray="3,2"/>
<use href="#dm" transform="translate(857,756) scale(2)"/>
<use href="#tr" transform="translate(857,778) scale(2)"/>
<rect x="851" y="795" width="12" height="12" fill="#f9a00e"/>
<g font-size="16" fill="#000">
<text x="885" y="761">uninfected</text>
<text x="883" y="782">C57BL/6-<tspan font-style="italic">La</tspan>-WT</text>
<text x="883" y="807">C57BL/6-<tspan font-style="italic">La</tspan>-arg<tspan font-size="10" dy="-7">-</tspan></text>
</g>
<g stroke="#1a2ee6" stroke-width="3" fill="none">
<path d="M1090,172 H1128" marker-end="url(#ab)"/>
<path d="M1135,186 H1097" marker-end="url(#ab)"/>
<path d="M1062,388 H1025" marker-end="url(#ab)"/>
<path d="M1465,440 V400" marker-end="url(#ab)"/>
<path d="M1462,602 V640" marker-end="url(#ab)"/>
<path d="M1458,828 V872" marker-end="url(#ab)"/>
<path d="M1187,912 V870" marker-end="url(#ab)"/>
<path d="M1075,975 H1035" marker-end="url(#ab)"/>
<path d="M1283,827 L1335,797" marker-end="url(#ab)"/>
<path d="M1265,442 Q1320,450 1335,480" marker-end="url(#ab)"/>
<path d="M1333,590 Q1330,635 1288,648" marker-end="url(#ab)"/>
<path d="M1070,655 Q1015,645 1005,600" marker-end="url(#ab)"/>
<path d="M1005,500 Q1008,455 1055,445" marker-end="url(#ab)"/>
<path d="M1288,902 Q1340,820 1450,850" stroke-dasharray="3,4" marker-end="url(#ab)"/>
<path d="M1392,184 L1430,202 M1400,178 L1418,196" stroke-dasharray="3,3" stroke-width="2.5"/>
</g>
<path d="M1385,176 L1398,180 L1392,190z M1435,205 L1422,201 L1428,191z" fill="#1a2ee6"/>
</svg>
</body></html>
